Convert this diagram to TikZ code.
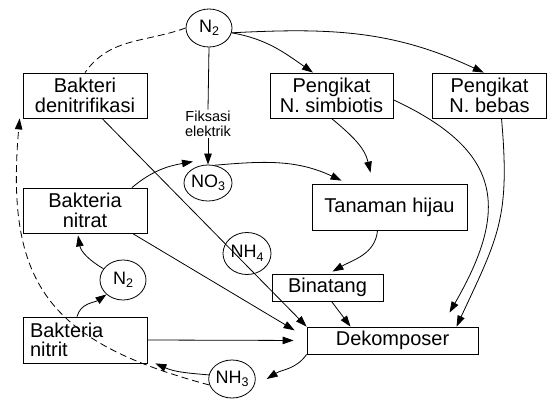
\documentclass[tikz,border=0pt]{standalone}
\usepackage{fontspec}
\setmainfont{Liberation Sans}
\usetikzlibrary{arrows.meta, positioning, shapes.geometric, calc}
\newcommand{\boxfont}{\fontsize{20}{19.5}\selectfont}
\newcommand{\circfont}{\fontsize{18}{18}\selectfont}
\newcommand{\notefont}{\fontsize{14.5}{15.5}\selectfont}
\newcommand{\chemsub}[1]{\raisebox{-3.5pt}{\fontsize{12.5}{12.5}\selectfont #1}}
\tikzset{
  every picture/.style={line width=0.8pt},
  box/.style={draw, align=center, inner sep=2pt, font=\boxfont},
  circ/.style={draw, ellipse, inner sep=0pt, minimum width=46pt, minimum height=38pt, font=\circfont},
  arrow/.style={-{Triangle[length=11pt, width=7.5pt]}},
  dashline/.style={dash pattern=on 7pt off 4pt},
  note/.style={align=center, inner sep=1pt, font=\notefont},
}

\begin{document}
\begin{tikzpicture}[x=1pt, y=1pt]
  \useasboundingbox (0,0) rectangle (548,399);
  % nodes
  \node[circ] (n2top) at (209,371) {N\chemsub{2}};
  \node[box, minimum width=124pt, minimum height=45pt] (denit) at (85,303.5) {Bakteri\\denitrifikasi};
  \node[box, minimum width=123pt, minimum height=45pt] (simb) at (331.5,303.5) {Pengikat\\N. simbiotis};
  \node[box, minimum width=114pt, minimum height=45pt] (bebas) at (489.5,303.5) {Pengikat\\N. bebas};
  \node[note] (fiks) at (208,275) {Fiksasi\\elektrik};
  \node[circ, minimum height=36pt] (no3) at (208,216) {NO\chemsub{3}};
  \node[box, minimum width=124pt, minimum height=45pt] (nitrat) at (85,188.5) {Bakteria\\nitrat};
  \node[circ, minimum height=40pt] (n2low) at (123,119) {N\chemsub{2}};
  \node[box, text width=110pt, inner xsep=7pt, align=left, minimum height=46pt] (nitrit) at (85,59) {Bakteria\\nitrit};
  \node[circ, minimum width=44pt] (nh3) at (232,20) {NH\chemsub{3}};
  \node[circ, minimum width=48pt, minimum height=42pt] (nh4) at (247,145.5) {NH\chemsub{4}};
  \node[box, minimum width=155pt, minimum height=46pt] (tanaman) at (389.5,192) {Tanaman hijau};
  \node[box, minimum width=111pt, minimum height=27pt] (binatang) at (327.5,111.5) {Binatang};
  \node[box, minimum width=171pt, minimum height=27pt] (dekomp) at (392.5,58.5) {Dekomposer};
  % connectors
  \draw[arrow] (n2top.-12) to[out=-10, in=145] (simb.129);
  \draw[arrow] (n2top.-12) to[out=3, in=155] (bebas.104);
  \draw[dashline] (n2top.west) to[out=200, in=55] (denit.north);
  \draw (n2top.south) -- (fiks.north);
  \draw[arrow] (fiks.south) -- (no3.north);
  \draw[arrow] (nitrat.26) to[out=40, in=190] ($(no3.north)+(-15,3)$);
  \draw[arrow] (no3.70) to[out=5, in=155] ($(tanaman.north west)+(30,3)$);
  \draw[arrow] (simb.south) to[out=-40, in=103] ($(tanaman.north)+(-19,11)$);
  \draw[arrow] (simb.-4) to[out=-25, in=60, looseness=1.4] ($(dekomp.north)+(57,14)$);
  \draw[arrow] ($(bebas.south)+(12,0)$) to[out=-85, in=65, looseness=1.2] ($(dekomp.north)+(64,0)$);
  \draw[arrow] ($(tanaman.south)+(-12,0)$) to[out=-95, in=30] ($(binatang.north)+(5,2)$);
  \draw[arrow] ($(binatang.south)+(4,0)$) -- ($(dekomp.north)+(-42,0)$);
  \draw[arrow] ($(denit.south)+(17,0)$) -- (dekomp.north west);
  \draw[arrow, shorten >=14pt] ($(nitrat.south east)+(-15,0)$) -- ($(dekomp.west)+(0,3)$);
  \draw[arrow, shorten >=13pt] (nitrit.east) -- (dekomp.west);
  \draw[arrow] (dekomp.south west) to[out=-125, in=32] ($(nh3.east)+(11,0)$);
  \draw[arrow] (nh3.170) to[out=175, in=-24] ($(nitrit.south east)+(8,0)$);
  \draw[arrow] ($(nitrit.north)+(-8,0)$) to[out=75, in=215] (n2low.south west);
  \draw[arrow] (n2low.150) to[out=150, in=-80] ($(nitrat.south)+(-7,-2)$);
  \draw[arrow, dashline] (nh3.195) to[out=165, in=-95, looseness=1.3] ($(denit.south west)+(-3,0)$);
\end{tikzpicture}
\end{document}
